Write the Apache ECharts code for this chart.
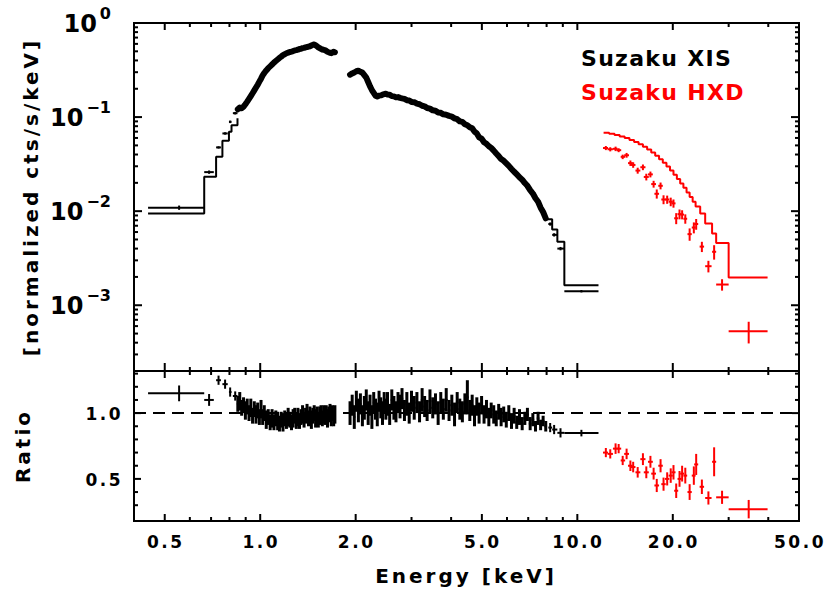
<!DOCTYPE html>
<html><head><meta charset="utf-8">
<script src="https://cdn.jsdelivr.net/npm/echarts@6/dist/echarts.min.js"></script>
<style>
html,body{margin:0;padding:0;background:#fff;}
#c{width:830px;height:601px;}
#c text[style*="17px"]{letter-spacing:2.5px;}
#c text[style*="20px"]{letter-spacing:3px;}
#c text[style*="22px"]{letter-spacing:1.3px;}
</style></head><body><div id="c"></div>
<script>
// ---------------- DATA ----------------
// XIS: sparse low-energy bins
const xisLowE = [0.555, 0.69, 0.739, 0.775, 0.804, 0.834];
const xisLowLo = [0.443, 0.666, 0.726, 0.76, 0.797, 0.82];
const xisLowHi = [0.666, 0.714, 0.752, 0.79, 0.812, 0.848];
const xisLowFlux = [0.0109, 0.026, 0.0476, 0.067, 0.089, 0.11];
const xisLowRatio = [1.15, 1.10, 1.25, 1.22, 1.16, 1.13];
const xisLowErr = [0.06, 0.045, 0.035, 0.035, 0.035, 0.035];

// XIS: dense segment 1 (0.85 - 1.72 keV)
const xis1E = [0.850,0.862,0.874,0.886,0.898,0.910,0.922,0.934,0.946,0.958,0.970,0.982,0.994,1.006,1.018,1.030,1.045,1.060,1.075,1.090,1.105,1.120,1.135,1.150,1.165,1.180,1.195,1.210,1.225,1.240,1.255,1.270,1.285,1.300,1.315,1.330,1.345,1.360,1.375,1.390,1.405,1.420,1.435,1.450,1.465,1.480,1.495,1.510,1.525,1.540,1.555,1.570,1.585,1.600,1.615,1.630,1.645,1.660,1.675,1.690,1.705,1.720];
const xis1Flux = [0.121,0.126,0.124,0.129,0.137,0.146,0.156,0.167,0.179,0.192,0.206,0.221,0.238,0.256,0.277,0.294,0.313,0.331,0.346,0.362,0.379,0.394,0.409,0.425,0.439,0.455,0.465,0.477,0.484,0.492,0.497,0.503,0.511,0.515,0.521,0.530,0.533,0.541,0.544,0.551,0.555,0.561,0.566,0.576,0.586,0.592,0.579,0.566,0.551,0.541,0.531,0.522,0.519,0.515,0.505,0.494,0.488,0.481,0.478,0.487,0.494,0.489];
const xis1Ratio = [1.07,1.09,1.04,1.06,1.02,1.05,1.00,1.04,0.98,1.03,0.99,1.02,0.97,1.03,0.97,1.00,0.95,0.97,0.93,0.96,0.93,0.96,0.94,0.92,0.95,0.93,0.96,0.94,0.97,0.95,0.93,0.96,0.98,0.94,0.97,0.94,0.97,0.99,0.95,0.98,1.00,0.96,0.99,0.95,0.98,1.00,0.96,0.99,0.95,0.98,1.00,0.96,0.99,0.97,1.00,0.96,0.99,1.01,0.97,1.00,0.96,0.99];
const xis1Err = [0.06,0.07,0.06,0.06,0.07,0.06,0.06,0.07,0.06,0.06,0.07,0.06,0.06,0.07,0.06,0.06,0.07,0.06,0.06,0.07,0.06,0.06,0.07,0.06,0.06,0.07,0.06,0.06,0.07,0.06,0.06,0.07,0.06,0.06,0.07,0.06,0.06,0.07,0.06,0.06,0.07,0.06,0.06,0.07,0.06,0.06,0.07,0.06,0.06,0.07,0.06,0.06,0.07,0.06,0.06,0.07,0.06,0.06,0.07,0.06,0.06,0.07];

// XIS: dense segment 2 (1.92 - 7.95 keV)
const xis2E = [1.92,1.95,1.98,2.01,2.04,2.07,2.10,2.13,2.16,2.19,2.22,2.25,2.28,2.31,2.34,2.37,2.40,2.43,2.46,2.49,2.52,2.56,2.60,2.64,2.68,2.72,2.76,2.80,2.85,2.90,2.95,3.00,3.06,3.12,3.18,3.24,3.30,3.36,3.43,3.50,3.57,3.64,3.71,3.78,3.86,3.94,4.02,4.10,4.18,4.26,4.34,4.42,4.50,4.58,4.66,4.74,4.82,4.90,4.99,5.08,5.17,5.26,5.35,5.45,5.55,5.65,5.75,5.86,5.97,6.08,6.20,6.32,6.44,6.57,6.70,6.83,6.96,7.10,7.24,7.38,7.52,7.66,7.80,7.95];
const xis2Flux = [0.282,0.291,0.298,0.307,0.311,0.303,0.297,0.279,0.263,0.236,0.212,0.194,0.181,0.169,0.166,0.169,0.170,0.173,0.175,0.177,0.174,0.173,0.167,0.166,0.162,0.163,0.160,0.158,0.156,0.151,0.150,0.145,0.144,0.139,0.137,0.132,0.130,0.125,0.123,0.118,0.117,0.112,0.111,0.107,0.106,0.103,0.101,0.097,0.095,0.090,0.089,0.084,0.082,0.078,0.076,0.070,0.067,0.061,0.059,0.054,0.052,0.049,0.047,0.044,0.041,0.0385,0.0358,0.0343,0.0322,0.0303,0.0281,0.0262,0.0247,0.0229,0.0216,0.0199,0.0186,0.0167,0.0154,0.0137,0.0126,0.0109,0.0098,0.0084];
const xis2Ratio = [1.00,1.06,0.97,1.09,1.02,1.07,0.98,1.04,1.10,1.00,1.06,0.97,1.08,1.03,0.99,1.09,1.04,1.00,1.08,1.03,1.07,0.99,1.10,1.04,1.01,1.08,1.05,1.11,1.02,1.07,1.00,1.09,1.04,1.08,1.01,1.10,1.05,1.02,1.09,1.04,1.07,1.00,1.08,1.03,1.10,1.02,1.06,0.99,1.08,1.03,1.01,1.07,1.12,1.02,1.06,0.98,1.05,1.00,1.06,0.99,1.03,0.97,1.02,0.99,0.96,1.01,0.97,0.99,0.95,1.00,0.94,0.98,0.93,0.97,0.92,0.96,0.99,0.92,0.95,0.90,0.96,0.91,0.94,0.90];
const xis2Err = [0.09,0.08,0.09,0.08,0.09,0.08,0.08,0.09,0.08,0.09,0.08,0.09,0.08,0.08,0.09,0.08,0.08,0.09,0.08,0.08,0.09,0.08,0.08,0.09,0.08,0.08,0.09,0.08,0.08,0.09,0.08,0.08,0.09,0.08,0.08,0.09,0.08,0.08,0.09,0.08,0.08,0.09,0.08,0.08,0.09,0.08,0.08,0.09,0.08,0.08,0.08,0.08,0.13,0.08,0.08,0.08,0.07,0.08,0.07,0.07,0.07,0.07,0.06,0.07,0.06,0.06,0.07,0.06,0.06,0.06,0.06,0.06,0.05,0.06,0.05,0.05,0.05,0.05,0.05,0.04,0.05,0.04,0.04,0.04];

// XIS: sparse high-energy bins
const xisHighE = [8.21, 8.45, 8.85, 10.3];
const xisHighLo = [8.1, 8.33, 8.65, 9.1];
const xisHighHi = [8.33, 8.65, 9.1, 11.66];
const xisHighFlux = [0.0073, 0.0056, 0.0040, 0.00141];
const xisHighRatio = [0.89, 0.875, 0.85, 0.848];
const xisHighErr = [0.035, 0.035, 0.035, 0.025];

// XIS model (visible step parts)
const xisModelLowEdges = [0.443, 0.666, 0.726, 0.76, 0.797, 0.812, 0.848];
const xisModelLowVals = [0.00945, 0.0232, 0.0378, 0.056, 0.0697, 0.082, 0.097];
const xisModelHighEdges = [8.0, 8.33, 8.65, 9.1, 11.66];
const xisModelHighVals = [0.0082, 0.00638, 0.00472, 0.00163];

// HXD data
const hxdE = [12.3,12.7,13.2,13.5,13.9,14.3,14.7,15.0,15.5,16.1,16.5,17.0,17.4,17.8,18.3,18.7,19.2,19.7,20.1,20.5,21.0,21.4,21.9,22.6,23.3,23.7,24.7,25.9,27.0,28.6,34.7];
const hxdLo = [12.05,12.45,12.95,13.3,13.7,14.05,14.45,14.75,15.25,15.8,16.2,16.7,17.1,17.5,18.0,18.4,18.9,19.4,19.8,20.2,20.7,21.1,21.6,22.25,22.95,23.35,24.3,25.3,26.6,27.4,30.0];
const hxdHi = [12.5,12.95,13.4,13.75,14.15,14.55,14.95,15.25,15.8,16.4,16.8,17.3,17.7,18.1,18.6,19.0,19.5,20.0,20.4,20.8,21.3,21.7,22.2,22.95,23.6,24.05,25.1,26.5,27.4,30.0,39.8];
const hxdFlux = [0.0469,0.0455,0.046,0.0445,0.0378,0.0393,0.0324,0.031,0.027,0.0293,0.0231,0.0246,0.0194,0.0153,0.0186,0.0133,0.0133,0.0126,0.0121,0.0084,0.0093,0.0092,0.0083,0.0057,0.0067,0.0073,0.0042,0.0026,0.0037,0.00166,0.00053];
const hxdRatio = [0.70,0.69,0.73,0.73,0.64,0.69,0.60,0.59,0.55,0.65,0.55,0.63,0.54,0.45,0.60,0.46,0.50,0.525,0.55,0.41,0.50,0.54,0.525,0.40,0.525,0.61,0.44,0.355,0.63,0.36,0.27];
const hxdErr = [0.035,0.035,0.04,0.035,0.035,0.04,0.04,0.04,0.04,0.045,0.045,0.045,0.045,0.05,0.05,0.05,0.05,0.055,0.055,0.055,0.06,0.06,0.06,0.06,0.07,0.08,0.055,0.05,0.11,0.05,0.07];

// HXD model steps
const hxdModelEdges = [12.1,12.6,13.1,13.6,14.1,14.6,15.1,15.6,16.1,16.6,17.1,17.6,18.1,18.6,19.1,19.6,20.1,20.6,21.1,21.6,22.1,22.6,23.1,23.6,24.4,25.3,26.6,27.4,30.0,39.8];
const hxdModelVals = [0.0680,0.0665,0.0645,0.0622,0.0598,0.0572,0.0545,0.0515,0.0484,0.0452,0.0420,0.0388,0.0357,0.0327,0.0298,0.0270,0.0244,0.0220,0.0197,0.0177,0.0158,0.0141,0.0126,0.0112,0.00945,0.0074,0.0058,0.0046,0.00197];

// ticks and labels
const xMajorTicks = [0.5, 1, 2, 5, 10, 20];
const xMinorTicks = [0.6, 0.7, 0.8, 0.9, 3, 4, 6, 7, 8, 9, 30, 40];
const xLabelValues = [0.5, 1, 2, 5, 10, 20, 50];
const xLabelTexts = ['0.5', '1.0', '2.0', '5.0', '10.0', '20.0', '50.0'];
const yTopMajorTicks = [0.001, 0.01, 0.1];
const yTopMinorTicks = [0.0003,0.0004,0.0005,0.0006,0.0007,0.0008,0.0009,0.002,0.003,0.004,0.005,0.006,0.007,0.008,0.009,0.02,0.03,0.04,0.05,0.06,0.07,0.08,0.09,0.2,0.3,0.4,0.5,0.6,0.7,0.8,0.9];
const yTopLabelValues = [1, 0.1, 0.01, 0.001];
const yTopLabelExps = ['0', '\u22121', '\u22122', '\u22123'];
const yBotMajorTicks = [0.5, 1.0];
const yBotMinorTicks = [0.3, 0.4, 0.6, 0.7, 0.8, 0.9, 1.1, 1.2, 1.3];
const yBotLabelValues = [0.5, 1.0];
const yBotLabelTexts = ['0.5', '1.0'];

// ---------------- BUILD ----------------
const FF = 'DejaVu Sans';
const RED = '#ff0000';

function stepData(edges, vals) {
  const d = [];
  for (let i = 0; i < vals.length; i++) { d.push([edges[i], vals[i]]); d.push([edges[i + 1], vals[i]]); }
  return d;
}
function binEdges(E) {
  const lo = [], hi = [];
  for (let i = 0; i < E.length; i++) {
    const l = i > 0 ? Math.sqrt(E[i - 1] * E[i]) : E[i] * E[i] / Math.sqrt(E[i] * E[i + 1]);
    const h = i < E.length - 1 ? Math.sqrt(E[i] * E[i + 1]) : E[i] * E[i] / Math.sqrt(E[i - 1] * E[i]);
    lo.push(l); hi.push(h);
  }
  return [lo, hi];
}
// rows: [E, y, lo, hi, ylo, yhi]
function fluxRows(E, lo, hi, F, R, Er) {
  return E.map((e, i) => { const rel = Er[i] / R[i]; return [e, F[i], lo[i], hi[i], F[i] * (1 - rel), F[i] * (1 + rel)]; });
}
function ratioRows(E, lo, hi, R, Er) {
  return E.map((e, i) => [e, R[i], lo[i], hi[i], R[i] - Er[i], R[i] + Er[i]]);
}
const [x1Lo, x1Hi] = binEdges(xis1E);
const [x2Lo, x2Hi] = binEdges(xis2E);

function crossRender(color, lw, hlw) {
  return function (params, api) {
    const x = api.value(0), y = api.value(1), lo = api.value(2), hi = api.value(3), ylo = api.value(4), yhi = api.value(5);
    const pL = api.coord([lo, y]), pR = api.coord([hi, y]), pB = api.coord([x, ylo]), pT = api.coord([x, yhi]);
    return { type: 'group', children: [
      { type: 'line', shape: { x1: pL[0], y1: pL[1], x2: pR[0], y2: pR[1] }, style: { stroke: color, lineWidth: hlw || lw } },
      { type: 'line', shape: { x1: pB[0], y1: pB[1], x2: pT[0], y2: pT[1] }, style: { stroke: color, lineWidth: lw } }
    ] };
  };
}

const mctx = document.createElement('canvas').getContext('2d');
function textW(t, font) { mctx.font = font; return mctx.measureText(t).width; }

function tickRender(cfg) {
  return function (params, api) {
    const cs = params.coordSys;
    const L = cs.x, R = cs.x + cs.width, T = cs.y, B = cs.y + cs.height;
    const ch = [];
    const ln = (x1, y1, x2, y2) => ch.push({ type: 'line', shape: { x1, y1, x2, y2 }, style: { stroke: '#000', lineWidth: 2 } });
    const txt = (t, x, y, font, align) => ch.push({ type: 'text', x, y, style: { text: t, font, fill: '#000', align, verticalAlign: 'middle', textAlign: align, textVerticalAlign: 'middle' } });
    cfg.xMajor.forEach(v => { const p = api.coord([v, cfg.yRef])[0]; ln(p, T, p, T + cfg.xTopMaj); ln(p, B, p, B - cfg.xBotMaj); });
    cfg.xMinor.forEach(v => { const p = api.coord([v, cfg.yRef])[0]; ln(p, T, p, T + cfg.xMin); ln(p, B, p, B - cfg.xMin); });
    cfg.yMajor.forEach(v => { const p = api.coord([1, v])[1]; ln(L, p, L + cfg.yMaj, p); ln(R, p, R - cfg.yMaj, p); });
    cfg.yMinor.forEach(v => { const p = api.coord([1, v])[1]; ln(L, p, L + cfg.yMin, p); ln(R, p, R - cfg.yMin, p); });
    if (cfg.xLabels) {
      cfg.xLabels.values.forEach((v, i) => { const p = api.coord([v, cfg.yRef])[0]; txt(cfg.xLabels.texts[i], p + 1, B + 21, 'bold 17px ' + FF, 'center'); });
    }
    if (cfg.yLabels) {
      cfg.yLabels.values.forEach((v, i) => { const p = api.coord([1, v])[1]; txt(cfg.yLabels.texts[i], L - 11, p + 1, 'bold 17px ' + FF, 'right'); });
    }
    if (cfg.yPowLabels) {
      const ef = 'bold 16px ' + FF, mf = 'bold 24px ' + FF;
      cfg.yPowLabels.values.forEach((v, i) => {
        const p = api.coord([1, v])[1];
        const e = cfg.yPowLabels.exps[i];
        const ex = L - 23;
        txt(e, ex, p - 10, ef, 'right');
        txt('10', ex - textW(e, ef) - 3, p + 1, mf, 'right');
      });
    }
    return { type: 'group', children: ch };
  };
}

const chart = echarts.init(document.getElementById('c'), null, { renderer: 'svg' });
const hiddenAxis = { axisLine: { show: false }, axisTick: { show: false }, axisLabel: { show: false }, splitLine: { show: false }, minorTick: { show: false } };

const option = {
  animation: false,
  backgroundColor: '#fff',
  grid: [
    { left: 134, top: 23, width: 665, height: 348, show: true, borderColor: '#000', borderWidth: 2, backgroundColor: 'transparent' },
    { left: 134, top: 371, width: 665, height: 150, show: true, borderColor: '#000', borderWidth: 2, backgroundColor: 'transparent' }
  ],
  xAxis: [
    Object.assign({ type: 'log', logBase: 10, min: 0.4, max: 50, gridIndex: 0 }, hiddenAxis),
    Object.assign({ type: 'log', logBase: 10, min: 0.4, max: 50, gridIndex: 1 }, hiddenAxis)
  ],
  yAxis: [
    Object.assign({ type: 'log', logBase: 10, min: 0.0002, max: 1, gridIndex: 0 }, hiddenAxis),
    Object.assign({ type: 'value', min: 0.18, max: 1.32, gridIndex: 1 }, hiddenAxis)
  ],
  graphic: [
    { type: 'text', x: 466, y: 576, style: { text: 'Energy [keV]', font: 'bold 20px ' + FF, fill: '#000', align: 'center', verticalAlign: 'middle', textAlign: 'center', textVerticalAlign: 'middle' } },
    { type: 'text', x: 31, y: 197, rotation: Math.PI / 2, style: { text: '[normalized cts/s/keV]', font: 'bold 20px ' + FF, fill: '#000', align: 'center', verticalAlign: 'middle', textAlign: 'center', textVerticalAlign: 'middle' } },
    { type: 'text', x: 23, y: 446, rotation: Math.PI / 2, style: { text: 'Ratio', font: 'bold 20px ' + FF, fill: '#000', align: 'center', verticalAlign: 'middle', textAlign: 'center', textVerticalAlign: 'middle' } },
    { type: 'text', x: 581, y: 58, style: { text: 'Suzaku XIS', font: 'bold 22px ' + FF, fill: '#000', align: 'left', verticalAlign: 'middle', textAlign: 'left', textVerticalAlign: 'middle' } },
    { type: 'text', x: 581, y: 92, style: { text: 'Suzaku HXD', font: 'bold 22px ' + FF, fill: RED, align: 'left', verticalAlign: 'middle', textAlign: 'left', textVerticalAlign: 'middle' } }
  ],
  series: [
    // ---- top panel ----
    { name: 'XIS model low', type: 'line', xAxisIndex: 0, yAxisIndex: 0, data: stepData(xisModelLowEdges, xisModelLowVals), symbol: 'none', lineStyle: { color: '#000', width: 2 }, z: 3 },
    { name: 'XIS model high', type: 'line', xAxisIndex: 0, yAxisIndex: 0, data: stepData(xisModelHighEdges, xisModelHighVals), symbol: 'none', lineStyle: { color: '#000', width: 2 }, z: 3 },
    { name: 'XIS seg1', type: 'line', xAxisIndex: 0, yAxisIndex: 0, data: xis1E.map((e, i) => [e, xis1Flux[i]]), symbol: 'none', lineStyle: { color: '#000', width: 6, join: 'round', cap: 'round' }, z: 4 },
    { name: 'XIS seg2', type: 'line', xAxisIndex: 0, yAxisIndex: 0, data: xis2E.map((e, i) => [e, xis2Flux[i]]), symbol: 'none', lineStyle: { color: '#000', width: 6, join: 'round', cap: 'round' }, z: 4 },
    { name: 'XIS low bins', type: 'custom', xAxisIndex: 0, yAxisIndex: 0, data: fluxRows(xisLowE, xisLowLo, xisLowHi, xisLowFlux, xisLowRatio, xisLowErr), renderItem: crossRender('#000', 2), z: 5 },
    { name: 'XIS high bins', type: 'custom', xAxisIndex: 0, yAxisIndex: 0, data: fluxRows(xisHighE, xisHighLo, xisHighHi, xisHighFlux, xisHighRatio, xisHighErr), renderItem: crossRender('#000', 2), z: 5 },
    { name: 'HXD model', type: 'line', xAxisIndex: 0, yAxisIndex: 0, data: stepData(hxdModelEdges, hxdModelVals), symbol: 'none', lineStyle: { color: RED, width: 2 }, z: 3 },
    { name: 'HXD data', type: 'custom', xAxisIndex: 0, yAxisIndex: 0, data: fluxRows(hxdE, hxdLo, hxdHi, hxdFlux, hxdRatio, hxdErr), renderItem: crossRender(RED, 2), z: 5 },
    { name: 'ticks top', type: 'custom', xAxisIndex: 0, yAxisIndex: 0, data: [[1, 0.01]], silent: true, z: 10,
      renderItem: tickRender({ yRef: 0.01, xMajor: xMajorTicks, xMinor: xMinorTicks, xTopMaj: 7, xBotMaj: 8, xMin: 4, yMajor: yTopMajorTicks, yMinor: yTopMinorTicks, yMaj: 8, yMin: 4, yPowLabels: { values: yTopLabelValues, exps: yTopLabelExps } }) },
    // ---- bottom panel ----
    { name: 'unity', type: 'line', xAxisIndex: 1, yAxisIndex: 1, data: [[0.4, 1], [50, 1]], symbol: 'none', lineStyle: { color: '#000', width: 2, type: [12, 7] }, z: 2 },
    { name: 'XIS ratio low', type: 'custom', xAxisIndex: 1, yAxisIndex: 1, data: ratioRows(xisLowE, xisLowLo, xisLowHi, xisLowRatio, xisLowErr), renderItem: crossRender('#000', 2), z: 5 },
    { name: 'XIS ratio seg1', type: 'custom', xAxisIndex: 1, yAxisIndex: 1, data: ratioRows(xis1E, x1Lo, x1Hi, xis1Ratio, xis1Err), renderItem: crossRender('#000', 3, 2), z: 5 },
    { name: 'XIS ratio seg2', type: 'custom', xAxisIndex: 1, yAxisIndex: 1, data: ratioRows(xis2E, x2Lo, x2Hi, xis2Ratio, xis2Err), renderItem: crossRender('#000', 3, 2), z: 5 },
    { name: 'XIS ratio high', type: 'custom', xAxisIndex: 1, yAxisIndex: 1, data: ratioRows(xisHighE, xisHighLo, xisHighHi, xisHighRatio, xisHighErr), renderItem: crossRender('#000', 2), z: 5 },
    { name: 'HXD ratio', type: 'custom', xAxisIndex: 1, yAxisIndex: 1, data: ratioRows(hxdE, hxdLo, hxdHi, hxdRatio, hxdErr), renderItem: crossRender(RED, 2), z: 5 },
    { name: 'ticks bottom', type: 'custom', xAxisIndex: 1, yAxisIndex: 1, data: [[1, 1]], silent: true, z: 10,
      renderItem: tickRender({ yRef: 1, xMajor: xMajorTicks, xMinor: xMinorTicks, xTopMaj: 7, xBotMaj: 7, xMin: 4, yMajor: yBotMajorTicks, yMinor: yBotMinorTicks, yMaj: 7, yMin: 4, xLabels: { values: xLabelValues, texts: xLabelTexts }, yLabels: { values: yBotLabelValues, texts: yBotLabelTexts } }) }
  ]
};
chart.setOption(option);
</script></body></html>
